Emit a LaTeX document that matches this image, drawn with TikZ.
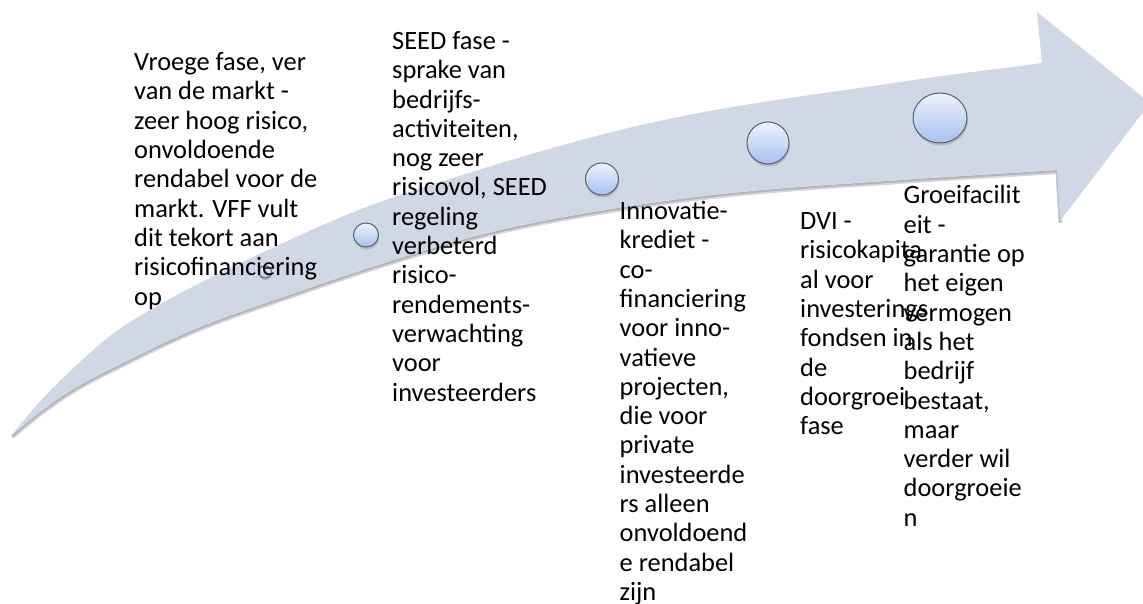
\documentclass[tikz,border=0pt]{standalone}
\usepackage{fontspec}
\setmainfont{Carlito}
\usetikzlibrary{shapes.geometric}
\definecolor{bandfill}{HTML}{D0D7E5}
\definecolor{bandshadow}{HTML}{B2B5BC}
\definecolor{bubbletop}{HTML}{EEF2FB}
\definecolor{bubblebot}{HTML}{A6C1F2}
\definecolor{bubbleline}{HTML}{5A5F6A}
\definecolor{bubbleshadow}{HTML}{B4B8C2}
\def\myarrowpath{(12,435) .. controls (30.3,411.2) and (48.7,391.4) .. (67,374)
 .. controls (89,353.1) and (111,333.3) .. (133,320)
 .. controls (183,289.7) and (233,266.4) .. (283,243)
 .. controls (322,224.7) and (361,207.8) .. (400,195)
 .. controls (483.3,167.8) and (566.7,141.8) .. (650,123)
 .. controls (733.3,104.2) and (816.7,94.7) .. (900,82)
 .. controls (947.3,74.8) and (994.7,69.3) .. (1042,63)
 -- (1037,12) -- (1150,103) -- (1060,221) -- (1057,170)
 \mylowerpath -- cycle}
\def\mylowerpath{.. controls (1004.7,173.3) and (952.3,176.4) .. (900,180)
 .. controls (846.7,183.7) and (793.3,186.7) .. (740,192)
 .. controls (699,196.1) and (658,201.5) .. (617,208)
 .. controls (578,214.2) and (539,221) .. (500,230)
 .. controls (466.7,237.7) and (433.3,247.7) .. (400,258)
 .. controls (361,270.1) and (322,283.5) .. (283,297)
 .. controls (255.3,306.6) and (227.7,315.7) .. (200,327)
 .. controls (177.7,336.1) and (155.3,346.9) .. (133,358)
 .. controls (111,368.9) and (89,379) .. (67,393)
 .. controls (48.7,404.6) and (30.3,419.4) .. (12,435)}
\begin{document}
\begin{tikzpicture}[x=1pt,y=-1pt,
  bubbleshade/.style={ellipse, fill=bubbleshadow, draw=none, inner sep=0pt},
  bubble/.style={ellipse, draw=bubbleline, line width=1pt, top color=bubbletop, bottom color=bubblebot, inner sep=0pt},
  txt/.style={anchor=base west, inner sep=0pt, font=\fontsize{26.4pt}{29.3pt}\selectfont, text=black}]
\useasboundingbox (0,0) rectangle (1143,604);
\clip (0,0) rectangle (1143,604);
% soft shadow along the lower edge of the arrow
\draw[bandshadow!55!white, line width=4pt, shift={(0.5,2)}] (1060,221) -- (1057,170) \mylowerpath;
\draw[bandshadow, line width=2pt, shift={(0.3,1.2)}] (1060,221) -- (1057,170) \mylowerpath;
\fill[bandfill] \myarrowpath;
% bubble shadows
\node[bubbleshade, minimum width=13pt, minimum height=12pt] (s1) at (265.8,274) {};
\node[bubbleshade, minimum width=25pt, minimum height=24pt] (s2) at (366.8,237.5) {};
\node[bubbleshade, minimum width=33pt, minimum height=32pt] (s3) at (602.8,181.5) {};
\node[bubbleshade, minimum width=42pt, minimum height=42pt] (s4) at (768.8,145.5) {};
\node[bubbleshade, minimum width=54pt, minimum height=50pt] (s5) at (940.8,120.5) {};
% bubbles
\node[bubble, minimum width=13pt, minimum height=12pt] (c1) at (265,272) {};
\node[bubble, minimum width=25pt, minimum height=24pt] (c2) at (366,235) {};
\node[bubble, minimum width=33pt, minimum height=32pt] (c3) at (602,179) {};
\node[bubble, minimum width=42pt, minimum height=42pt] (c4) at (768,143) {};
\node[bubble, minimum width=54pt, minimum height=50pt] (c5) at (940,118) {};
% texts
\node[txt] (t1) at (134,70.7) {\begin{tabular}[t]{@{}l@{}}Vroege fase, ver\\ van de markt -\\ zeer hoog risico,\\ onvoldoende\\ rendabel voor de\\ markt. VFF vult\\ dit tekort aan\\ risicofinanciering\\ op\end{tabular}};
\node[txt] (t2) at (392,49.5) {\begin{tabular}[t]{@{}l@{}}SEED fase -\\ sprake van\\ bedrijfs-\\ activiteiten,\\ nog zeer\\ risicovol, SEED\\ regeling\\ verbeterd\\ risico-\\ rendements-\\ verwachting\\ voor\\ investeerders\end{tabular}};
\node[txt] (t3) at (619.5,219.5) {\begin{tabular}[t]{@{}l@{}}Innovatie-\\ krediet -\\ co-\\ financiering\\ voor inno-\\ vatieve\\ projecten,\\ die voor\\ private\\ investeerde\\ rs alleen\\ onvoldoend\\ e rendabel\\ zijn\end{tabular}};
\node[txt] (t4) at (800,229.5) {\begin{tabular}[t]{@{}l@{}}DVI -\\ risicokapita\\ al voor\\ investerings\\ fondsen in\\ de\\ doorgroei\\ fase\end{tabular}};
\node[txt] (t5) at (903.5,204) {\begin{tabular}[t]{@{}l@{}}Groeifacilit\\ eit -\\ garantie op\\ het eigen\\ vermogen\\ als het\\ bedrijf\\ bestaat,\\ maar\\ verder wil\\ doorgroeie\\ n\end{tabular}};
\end{tikzpicture}
\end{document}
